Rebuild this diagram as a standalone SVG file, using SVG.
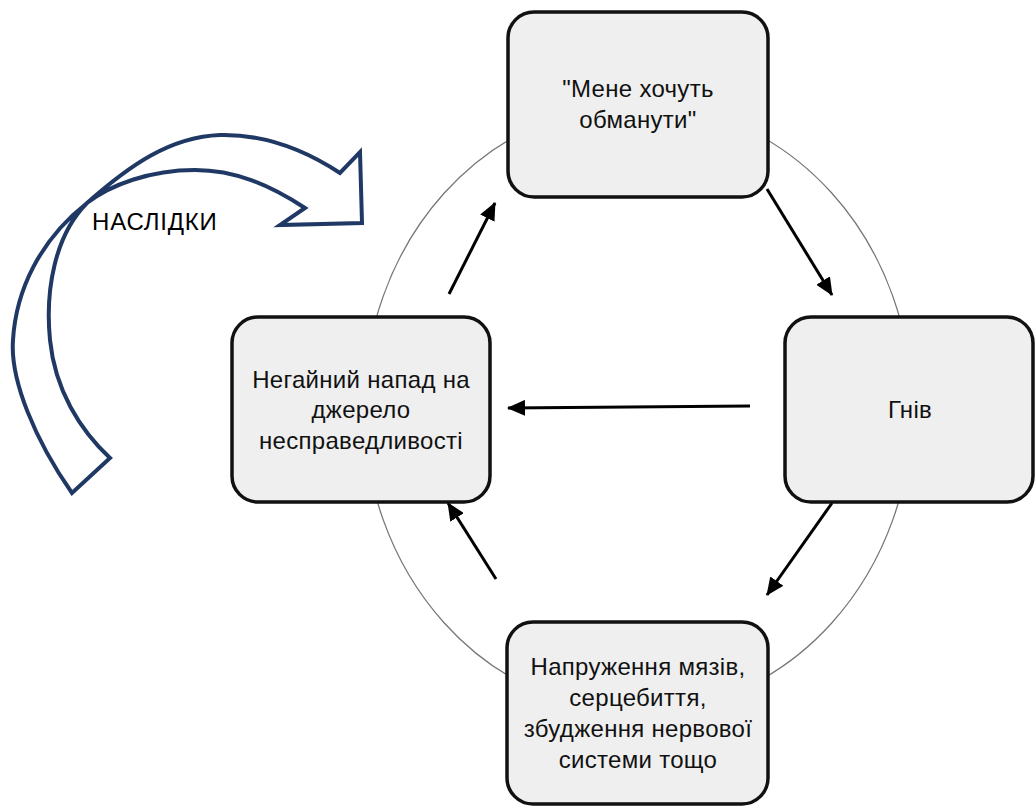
<svg xmlns="http://www.w3.org/2000/svg" width="1035" height="806" viewBox="0 0 1035 806">
<style>
.box{fill:#efefef;stroke:#111;stroke-width:3.5}
.t{font-family:"Liberation Sans",Arial,sans-serif;font-size:24px;letter-spacing:0.3px;fill:#111;text-anchor:middle}
.conn{stroke:#000;stroke-width:3;fill:none;marker-end:url(#ah)}
</style>
<defs>
<marker id="ah" markerUnits="userSpaceOnUse" markerWidth="18" markerHeight="16" refX="17" refY="8" orient="auto">
<path d="M0,0 L18,8 L0,16 Z" fill="#000"/>
</marker>
</defs>
<rect width="1035" height="806" fill="#fff"/>
<ellipse id="cycle" cx="638" cy="408" rx="274" ry="304" fill="none" stroke="#777" stroke-width="1.3"/>
<g id="consequences">
<path d="M72,493 C35,440 10,380 13,340 C16,290 40,240 87,203 C130,165 170,137 220,135 C265,134 305,150 340,173 L360,152 L362,223 L280,225 L305,208 C270,185 235,170 195,170 C150,170 110,185 87,203 C55,235 45,290 50,340 C55,390 80,430 110,458 Z" fill="none" stroke="#203864" stroke-width="4" stroke-linejoin="miter"/>
<text x="92" y="230" font-family="Liberation Sans, Arial, sans-serif" font-size="24" letter-spacing="0.8" fill="#000">НАСЛІДКИ</text>
</g>
<g id="connectors">
<line class="conn" x1="767" y1="189" x2="832" y2="295"/>
<line class="conn" x1="832" y1="503" x2="767" y2="595"/>
<line class="conn" x1="750" y1="406" x2="508" y2="408"/>
<line class="conn" x1="496" y1="579" x2="448" y2="503"/>
<line class="conn" x1="449" y1="294" x2="495" y2="203"/>
</g>
<g id="node-top">
<rect class="box" x="508" y="12" width="260" height="185" rx="26"/>
<text class="t" x="638" y="97">"Мене хочуть</text>
<text class="t" x="638" y="128">обманути"</text>
</g>
<g id="node-right">
<rect class="box" x="785" y="317" width="248" height="185" rx="26"/>
<text class="t" x="910" y="418">Гнів</text>
</g>
<g id="node-bottom">
<rect class="box" x="507" y="622" width="261" height="182" rx="26"/>
<text class="t" x="638" y="675">Напруження мязів,</text>
<text class="t" x="638" y="706">серцебиття,</text>
<text class="t" x="638" y="737">збудження нервової</text>
<text class="t" x="638" y="768">системи тощо</text>
</g>
<g id="node-left">
<rect class="box" x="232" y="317" width="258" height="185" rx="26"/>
<text class="t" x="361" y="388">Негайний напад на</text>
<text class="t" x="361" y="418">джерело</text>
<text class="t" x="361" y="449">несправедливості</text>
</g>
</svg>
